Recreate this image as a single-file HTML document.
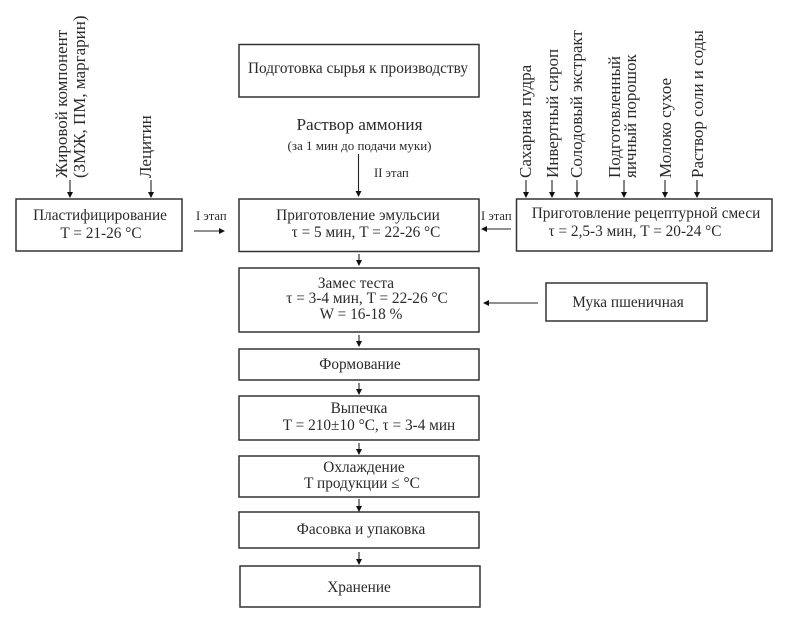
<!DOCTYPE html>
<html><head><meta charset="utf-8">
<style>
html,body{margin:0;padding:0;background:#fff}
svg{display:block}
text{font-family:"Liberation Serif",serif;fill:#2a2a2a}
rect{fill:#fff;stroke:#333;stroke-width:1.5}
.l{stroke:#222;stroke-width:1.1;fill:none}
.c{text-anchor:middle}
</style></head><body>
<svg width="792" height="624" viewBox="0 0 792 624" xmlns="http://www.w3.org/2000/svg">
<defs><marker id="a" markerWidth="6" markerHeight="6" refX="5" refY="3" orient="auto" markerUnits="userSpaceOnUse"><path d="M0,0 L6,3 L0,6 Z" fill="#111"/></marker></defs>

<rect x="239" y="44.500" width="240" height="52.500"/>
<rect x="239" y="199" width="240" height="52.500"/>
<rect x="16" y="199" width="166" height="52"/>
<rect x="516.500" y="199" width="255.500" height="52"/>
<rect x="239" y="268" width="240" height="64"/>
<rect x="239" y="349" width="240" height="31"/>
<rect x="239" y="396" width="240" height="44"/>
<rect x="239" y="456" width="240" height="41"/>
<rect x="239" y="512" width="240" height="36"/>
<rect x="240" y="566" width="240" height="41"/>
<rect x="546" y="283" width="161" height="38"/>

<text class="c" x="358" y="73" font-size="15.300">Подготовка сырья к производству</text>
<text class="c" x="359.500" y="130" font-size="17.200">Раствор аммония</text>
<text class="c" x="359.500" y="150" font-size="13">(за 1 мин до подачи муки)</text>
<text x="374" y="177" font-size="12.600">II этап</text>
<text x="196" y="220" font-size="12.600">I этап</text>
<text x="481" y="220" font-size="12.600">I этап</text>

<text class="c" x="100" y="220" font-size="15.300">Пластифицирование</text>
<text class="c" x="101" y="238" font-size="15.300">T = 21-26 °C</text>
<text class="c" x="358" y="220" font-size="15.300">Приготовление эмульсии</text>
<text class="c" x="366" y="237" font-size="15.300">τ  = 5 мин, T = 22-26 °C</text>
<text class="c" x="646" y="218" font-size="15.300">Приготовление рецептурной смеси</text>
<text class="c" x="635" y="236" font-size="15.300">τ  = 2,5-3 мин, T = 20-24 °C</text>

<text class="c" x="356" y="288" font-size="15.300">Замес теста</text>
<text class="c" x="367" y="303" font-size="15.300">τ  = 3-4 мин, T = 22-26 °C</text>
<text class="c" x="361" y="319" font-size="15.300">W = 16-18 %</text>
<text class="c" x="360" y="369" font-size="15.300">Формование</text>
<text class="c" x="359" y="413" font-size="15.300">Выпечка</text>
<text class="c" x="369" y="430" font-size="15.300">T = 210±10 °C, τ = 3-4 мин</text>
<text class="c" x="364" y="472" font-size="15.300">Охлаждение</text>
<text class="c" x="362" y="488" font-size="15.300">T продукции ≤ °C</text>
<text class="c" x="361" y="534" font-size="15.300">Фасовка и упаковка</text>
<text class="c" x="359" y="592" font-size="15.300">Хранение</text>
<text class="c" x="628" y="307" font-size="15.300">Мука пшеничная</text>

<g font-size="17">
<text transform="translate(67,178) rotate(-90)">Жировой компонент</text>
<text transform="translate(85,178) rotate(-90)">(ЗМЖ, ПМ, маргарин)</text>
<text transform="translate(151,178) rotate(-90)">Лецитин</text>
<text transform="translate(531,178) rotate(-90)">Сахарная пудра</text>
<text transform="translate(558,178) rotate(-90)">Инвертный сироп</text>
<text transform="translate(582,178) rotate(-90)">Солодовый экстракт</text>
<text transform="translate(620,178) rotate(-90)">Подготовленный</text>
<text transform="translate(636,178) rotate(-90)">яичный порошок</text>
<text transform="translate(671,178) rotate(-90)">Молоко сухое</text>
<text transform="translate(703,178) rotate(-90)">Раствор соли и соды</text>
</g>

<g>
<path class="l" marker-end="url(#a)" d="M70,180V197"/>
<path class="l" marker-end="url(#a)" d="M151,180V197"/>
<path class="l" marker-end="url(#a)" d="M526,180V197"/>
<path class="l" marker-end="url(#a)" d="M552,180V197"/>
<path class="l" marker-end="url(#a)" d="M577,180V197"/>
<path class="l" marker-end="url(#a)" d="M624,180V197"/>
<path class="l" marker-end="url(#a)" d="M665,180V197"/>
<path class="l" marker-end="url(#a)" d="M697,180V197"/>
<path class="l" marker-end="url(#a)" d="M358.500,154V196"/>
<path class="l" marker-end="url(#a)" d="M194,231H224"/>
<path class="l" marker-end="url(#a)" d="M511,229H482"/>
<path class="l" marker-end="url(#a)" d="M538,303H484"/>
<path class="l" marker-end="url(#a)" d="M359,254V265"/>
<path class="l" marker-end="url(#a)" d="M359,335V346"/>
<path class="l" marker-end="url(#a)" d="M359,383V394"/>
<path class="l" marker-end="url(#a)" d="M359,443V454"/>
<path class="l" marker-end="url(#a)" d="M359,499V511"/>
<path class="l" marker-end="url(#a)" d="M359,552V564"/>
</g>
</svg>
</body></html>
